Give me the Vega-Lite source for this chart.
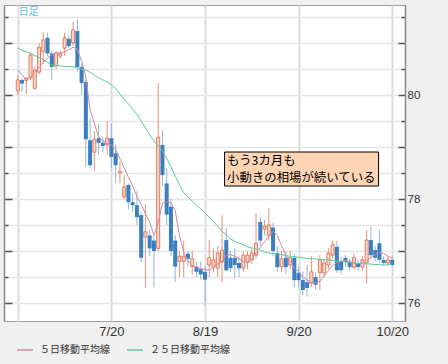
{
  "$schema": "https://vega.github.io/schema/vega-lite/v6.json",
  "width": 401,
  "height": 316,
  "autosize": {"type": "none"},
  "padding": {"left": 4, "top": 5, "right": 43, "bottom": 43},
  "background": "#f0f0f0",
  "config": {
    "view": {"fill": "white", "stroke": "#a0a0a0", "strokeWidth": 1},
    "font": "Liberation Sans"
  },
  "datasets": {
    "px": [
      {"i":0,"d":"6/20","o":80.08,"h":80.38,"l":80.00,"c":80.29,"m5":80.48,"m25":80.90},
      {"i":1,"d":"6/21","o":80.29,"h":80.33,"l":80.05,"c":80.22,"m5":80.38,"m25":80.86},
      {"i":2,"d":"6/22","o":80.28,"h":80.35,"l":80.02,"c":80.32,"m5":80.30,"m25":80.83},
      {"i":3,"d":"6/23","o":80.33,"h":80.82,"l":80.28,"c":80.77,"m5":80.35,"m25":80.80},
      {"i":4,"d":"6/24","o":80.13,"h":80.55,"l":80.10,"c":80.48,"m5":80.45,"m25":80.76},
      {"i":5,"d":"6/27","o":80.44,"h":81.00,"l":80.40,"c":80.92,"m5":80.53,"m25":80.72},
      {"i":6,"d":"6/28","o":80.83,"h":81.21,"l":80.60,"c":81.06,"m5":80.62,"m25":80.68},
      {"i":7,"d":"6/29","o":81.10,"h":81.20,"l":80.75,"c":80.80,"m5":80.71,"m25":80.63},
      {"i":8,"d":"6/30","o":80.80,"h":80.85,"l":80.29,"c":80.54,"m5":80.78,"m25":80.58},
      {"i":9,"d":"7/1","o":80.56,"h":80.85,"l":80.50,"c":80.80,"m5":80.81,"m25":80.57},
      {"i":10,"d":"7/4","o":80.75,"h":80.85,"l":80.70,"c":80.80,"m5":80.81,"m25":80.56},
      {"i":11,"d":"7/5","o":80.90,"h":81.20,"l":80.75,"c":81.10,"m5":80.83,"m25":80.55},
      {"i":12,"d":"7/6","o":81.08,"h":81.15,"l":80.90,"c":80.94,"m5":80.87,"m25":80.55},
      {"i":13,"d":"7/7","o":81.00,"h":81.40,"l":80.95,"c":81.25,"m5":80.92,"m25":80.54},
      {"i":14,"d":"7/8","o":81.23,"h":81.46,"l":80.45,"c":80.54,"m5":80.88,"m25":80.52},
      {"i":15,"d":"7/11","o":80.54,"h":80.60,"l":80.00,"c":80.23,"m5":80.65,"m25":80.50},
      {"i":16,"d":"7/12","o":80.25,"h":80.30,"l":78.62,"c":79.15,"m5":80.35,"m25":80.48},
      {"i":17,"d":"7/13","o":79.13,"h":79.55,"l":78.60,"c":78.65,"m5":79.71,"m25":80.44},
      {"i":18,"d":"7/14","o":78.90,"h":79.30,"l":78.55,"c":79.15,"m5":79.45,"m25":80.38},
      {"i":19,"d":"7/15","o":79.17,"h":79.45,"l":78.85,"c":79.08,"m5":79.20,"m25":80.33},
      {"i":20,"d":"7/18","o":79.08,"h":79.20,"l":78.90,"c":79.02,"m5":79.12,"m25":80.29},
      {"i":21,"d":"7/19","o":79.04,"h":79.50,"l":78.85,"c":79.17,"m5":79.07,"m25":80.25},
      {"i":22,"d":"7/20","o":79.17,"h":79.45,"l":78.60,"c":78.81,"m5":79.04,"m25":80.19},
      {"i":23,"d":"7/21","o":78.88,"h":79.05,"l":78.30,"c":78.65,"m5":78.95,"m25":80.12},
      {"i":24,"d":"7/22","o":78.50,"h":78.70,"l":78.30,"c":78.53,"m5":78.78,"m25":80.02},
      {"i":25,"d":"7/25","o":78.04,"h":78.46,"l":78.00,"c":78.23,"m5":78.60,"m25":79.92},
      {"i":26,"d":"7/26","o":78.27,"h":78.30,"l":77.80,"c":77.94,"m5":78.42,"m25":79.83},
      {"i":27,"d":"7/27","o":77.94,"h":78.10,"l":77.75,"c":77.88,"m5":78.25,"m25":79.73},
      {"i":28,"d":"7/28","o":77.88,"h":78.15,"l":77.50,"c":77.65,"m5":78.05,"m25":79.63},
      {"i":29,"d":"7/29","o":77.69,"h":77.75,"l":76.80,"c":76.87,"m5":77.90,"m25":79.50},
      {"i":30,"d":"8/1","o":77.27,"h":77.90,"l":76.30,"c":77.37,"m5":77.72,"m25":79.37},
      {"i":31,"d":"8/2","o":77.30,"h":77.40,"l":76.90,"c":77.05,"m5":77.56,"m25":79.23},
      {"i":32,"d":"8/3","o":77.20,"h":77.30,"l":76.30,"c":77.00,"m5":77.30,"m25":79.12},
      {"i":33,"d":"8/4","o":77.05,"h":80.23,"l":77.00,"c":79.19,"m5":77.55,"m25":79.02},
      {"i":34,"d":"8/5","o":79.04,"h":79.33,"l":78.25,"c":78.46,"m5":77.92,"m25":78.92},
      {"i":35,"d":"8/8","o":78.30,"h":78.60,"l":77.50,"c":77.70,"m5":77.95,"m25":78.79},
      {"i":36,"d":"8/9","o":77.85,"h":78.00,"l":76.90,"c":77.00,"m5":77.93,"m25":78.62},
      {"i":37,"d":"8/10","o":77.20,"h":77.30,"l":76.40,"c":76.70,"m5":77.78,"m25":78.44},
      {"i":38,"d":"8/11","o":76.80,"h":77.00,"l":76.50,"c":76.90,"m5":77.30,"m25":78.27},
      {"i":39,"d":"8/12","o":76.80,"h":77.20,"l":76.50,"c":76.90,"m5":76.98,"m25":78.12},
      {"i":40,"d":"8/15","o":76.95,"h":77.00,"l":76.70,"c":76.85,"m5":76.80,"m25":78.04},
      {"i":41,"d":"8/16","o":76.70,"h":77.00,"l":76.55,"c":76.85,"m5":76.72,"m25":77.96},
      {"i":42,"d":"8/17","o":76.70,"h":76.80,"l":76.50,"c":76.60,"m5":76.68,"m25":77.88},
      {"i":43,"d":"8/18","o":76.65,"h":76.80,"l":76.45,"c":76.55,"m5":76.66,"m25":77.81},
      {"i":44,"d":"8/19","o":76.60,"h":76.70,"l":75.95,"c":76.45,"m5":76.64,"m25":77.73},
      {"i":45,"d":"8/22","o":76.73,"h":77.21,"l":76.50,"c":76.87,"m5":76.63,"m25":77.65},
      {"i":46,"d":"8/23","o":76.69,"h":77.05,"l":76.60,"c":76.83,"m5":76.68,"m25":77.56},
      {"i":47,"d":"8/24","o":76.67,"h":77.10,"l":76.50,"c":76.96,"m5":76.75,"m25":77.48},
      {"i":48,"d":"8/25","o":76.79,"h":77.69,"l":76.40,"c":77.02,"m5":76.80,"m25":77.38},
      {"i":49,"d":"8/26","o":77.21,"h":77.44,"l":76.60,"c":76.63,"m5":76.92,"m25":77.31},
      {"i":50,"d":"8/29","o":76.87,"h":77.00,"l":76.60,"c":76.67,"m5":76.93,"m25":77.23},
      {"i":51,"d":"8/30","o":76.87,"h":77.05,"l":76.48,"c":76.73,"m5":76.90,"m25":77.19},
      {"i":52,"d":"8/31","o":76.77,"h":76.90,"l":76.50,"c":76.67,"m5":76.86,"m25":77.15},
      {"i":53,"d":"9/1","o":76.67,"h":77.00,"l":76.60,"c":76.92,"m5":76.80,"m25":77.12},
      {"i":54,"d":"9/2","o":76.79,"h":77.00,"l":76.65,"c":76.92,"m5":76.77,"m25":77.08},
      {"i":55,"d":"9/5","o":76.83,"h":77.05,"l":76.75,"c":76.96,"m5":76.83,"m25":77.06},
      {"i":56,"d":"9/6","o":76.92,"h":77.73,"l":76.85,"c":77.15,"m5":76.97,"m25":77.04},
      {"i":57,"d":"9/7","o":77.56,"h":77.65,"l":77.10,"c":77.20,"m5":77.07,"m25":77.02},
      {"i":58,"d":"9/8","o":77.42,"h":77.60,"l":77.30,"c":77.48,"m5":77.18,"m25":76.98},
      {"i":59,"d":"9/9","o":77.30,"h":77.83,"l":77.20,"c":77.50,"m5":77.28,"m25":76.96},
      {"i":60,"d":"9/12","o":77.45,"h":77.55,"l":76.90,"c":77.00,"m5":77.38,"m25":76.95},
      {"i":61,"d":"9/13","o":76.96,"h":77.10,"l":76.60,"c":76.69,"m5":77.30,"m25":76.94},
      {"i":62,"d":"9/14","o":76.70,"h":77.00,"l":76.60,"c":76.85,"m5":77.10,"m25":76.93},
      {"i":63,"d":"9/15","o":76.87,"h":77.00,"l":76.55,"c":76.69,"m5":76.92,"m25":76.91},
      {"i":64,"d":"9/16","o":76.73,"h":77.00,"l":76.65,"c":76.87,"m5":76.80,"m25":76.90},
      {"i":65,"d":"9/19","o":76.87,"h":76.95,"l":76.30,"c":76.44,"m5":76.68,"m25":76.89},
      {"i":66,"d":"9/20","o":76.58,"h":76.70,"l":76.30,"c":76.44,"m5":76.60,"m25":76.88},
      {"i":67,"d":"9/21","o":76.44,"h":76.60,"l":76.15,"c":76.25,"m5":76.50,"m25":76.87},
      {"i":68,"d":"9/22","o":76.40,"h":76.73,"l":76.12,"c":76.29,"m5":76.44,"m25":76.86},
      {"i":69,"d":"9/23","o":76.38,"h":76.90,"l":76.30,"c":76.60,"m5":76.40,"m25":76.85},
      {"i":70,"d":"9/26","o":76.50,"h":76.60,"l":76.25,"c":76.35,"m5":76.38,"m25":76.85},
      {"i":71,"d":"9/27","o":76.58,"h":76.92,"l":76.25,"c":76.83,"m5":76.42,"m25":76.84},
      {"i":72,"d":"9/28","o":76.58,"h":76.85,"l":76.50,"c":76.77,"m5":76.52,"m25":76.83},
      {"i":73,"d":"9/29","o":76.73,"h":77.05,"l":76.65,"c":76.96,"m5":76.62,"m25":76.83},
      {"i":74,"d":"9/30","o":76.92,"h":77.20,"l":76.85,"c":77.12,"m5":76.72,"m25":76.82},
      {"i":75,"d":"10/3","o":77.08,"h":77.20,"l":76.58,"c":76.63,"m5":76.78,"m25":76.81},
      {"i":76,"d":"10/4","o":76.79,"h":76.88,"l":76.55,"c":76.63,"m5":76.80,"m25":76.80},
      {"i":77,"d":"10/5","o":76.87,"h":76.92,"l":76.70,"c":76.79,"m5":76.82,"m25":76.79},
      {"i":78,"d":"10/6","o":76.79,"h":76.85,"l":76.62,"c":76.69,"m5":76.80,"m25":76.78},
      {"i":79,"d":"10/7","o":76.69,"h":76.95,"l":76.65,"c":76.87,"m5":76.77,"m25":76.77},
      {"i":80,"d":"10/10","o":76.77,"h":76.82,"l":76.62,"c":76.69,"m5":76.76,"m25":76.76},
      {"i":81,"d":"10/11","o":76.69,"h":76.90,"l":76.62,"c":76.83,"m5":76.77,"m25":76.76},
      {"i":82,"d":"10/12","o":76.77,"h":77.40,"l":76.38,"c":77.21,"m5":76.82,"m25":76.75},
      {"i":83,"d":"10/13","o":77.21,"h":77.46,"l":76.85,"c":76.92,"m5":76.88,"m25":76.75},
      {"i":84,"d":"10/14","o":77.02,"h":77.10,"l":76.80,"c":76.87,"m5":76.93,"m25":76.74},
      {"i":85,"d":"10/17","o":77.15,"h":77.40,"l":76.78,"c":76.83,"m5":76.98,"m25":76.74},
      {"i":86,"d":"10/18","o":76.83,"h":76.90,"l":76.72,"c":76.77,"m5":76.95,"m25":76.73},
      {"i":87,"d":"10/19","o":76.77,"h":76.88,"l":76.72,"c":76.83,"m5":76.90,"m25":76.74},
      {"i":88,"d":"10/20","o":76.83,"h":76.90,"l":76.70,"c":76.73,"m5":76.86,"m25":76.75}
    ],
    "note": [
      {"x0": 48.6, "x1": 84.8, "y0": 78.904, "y1": 78.25}
    ],
    "noteText": [
      {"x": 49.2, "y": 78.74, "t": "もう3カ月も"},
      {"x": 49.2, "y": 78.40, "t": "小動きの相場が続いている"}
    ],
    "tag": [
      {"x": 0.2, "y": 81.6, "t": "日足"}
    ]
  },
  "resolve": {"axis": {"y": "independent"}},
  "layer": [
    {
      "data": {"name": "px"},
      "transform": [{"filter": "datum.c >= datum.o"}],
      "mark": {"type": "rule", "color": "#e8907a", "strokeWidth": 1},
      "encoding": {
        "x": {"field": "i", "type": "quantitative",
          "scale": {"domain": [-2.0625, 89.833], "nice": false, "zero": false},
          "axis": {"values": [0, 22, 44, 66, 88],
            "labelExpr": "datum.value == 22 ? '7/20' : datum.value == 44 ? '8/19' : datum.value == 66 ? '9/20' : datum.value == 88 ? '10/20' : ''",
            "title": null, "ticks": false, "domain": false,
            "grid": true, "gridColor": "#dcdcdc", "gridWidth": 2,
            "labelFontSize": 13, "labelColor": "#333", "labelPadding": 4}},
        "y": {"field": "l", "type": "quantitative",
          "scale": {"domain": [75.654, 81.731], "nice": false, "zero": false},
          "axis": {"orient": "right", "title": null,
            "values": [76, 76.5, 77, 77.5, 78, 78.5, 79, 79.5, 80, 80.5, 81, 81.5],
            "labelExpr": "datum.value == 76 || datum.value == 78 || datum.value == 80 ? format(datum.value, 'd') : ''",
            "grid": true, "gridColor": "#e6e6e6", "gridWidth": 1.5,
            "tickColor": "#555", "tickWidth": 1.5,
            "tickSize": {"condition": {"test": "datum.value % 1 == 0", "value": -7}, "value": -4},
            "labelPadding": 9, "labelFontSize": 11.5, "labelColor": "#333",
            "domainColor": "#888", "domainWidth": 1.5}},
        "y2": {"field": "h"}
      }
    },
    {
      "data": {"name": "px"},
      "transform": [{"filter": "datum.c < datum.o"}],
      "mark": {"type": "rule", "color": "#8fb8dc", "strokeWidth": 1},
      "encoding": {
        "x": {"field": "i", "type": "quantitative"},
        "y": {"field": "l", "type": "quantitative",
          "axis": {"orient": "left", "title": null, "labels": false, "grid": false,
            "values": [76, 76.5, 77, 77.5, 78, 78.5, 79, 79.5, 80, 80.5, 81, 81.5],
            "tickColor": "#555", "tickWidth": 1.5,
            "tickSize": {"condition": {"test": "datum.value % 1 == 0", "value": -8}, "value": -4},
            "domainColor": "#888", "domainWidth": 1.5}},
        "y2": {"field": "h"}
      }
    },
    {
      "data": {"name": "px"},
      "transform": [{"filter": "datum.c >= datum.o"}],
      "mark": {"type": "bar", "fill": "#fcd8ca", "stroke": "#e07b62", "strokeWidth": 1, "size": 3},
      "encoding": {
        "x": {"field": "i", "type": "quantitative"},
        "y": {"field": "o", "type": "quantitative", "axis": null},
        "y2": {"field": "c"}
      }
    },
    {
      "data": {"name": "px"},
      "transform": [{"filter": "datum.c < datum.o"}],
      "mark": {"type": "bar", "fill": "#3b7fc0", "size": 4},
      "encoding": {
        "x": {"field": "i", "type": "quantitative"},
        "y": {"field": "o", "type": "quantitative", "axis": null},
        "y2": {"field": "c"}
      }
    },
    {
      "data": {"name": "px"},
      "mark": {"type": "line", "strokeWidth": 1},
      "encoding": {
        "x": {"field": "i", "type": "quantitative"},
        "y": {"field": "m5", "type": "quantitative", "axis": null},
        "color": {"datum": "５日移動平均線",
          "scale": {"domain": ["５日移動平均線", "２５日移動平均線"], "range": ["#d088aa", "#5ccb9c"]},
          "legend": {"orient": "none", "legendX": 12, "legendY": 336, "direction": "horizontal",
            "title": null, "symbolType": "stroke", "symbolSize": 256, "symbolStrokeWidth": 1.5,
            "labelFont": "Noto Sans CJK JP", "labelFontSize": 10, "labelColor": "#333",
            "labelOffset": 6, "columnPadding": 14, "padding": 0, "symbolOffset": 0}}
      }
    },
    {
      "data": {"name": "px"},
      "mark": {"type": "line", "strokeWidth": 1},
      "encoding": {
        "x": {"field": "i", "type": "quantitative"},
        "y": {"field": "m25", "type": "quantitative", "axis": null},
        "color": {"datum": "２５日移動平均線"}
      }
    },
    {
      "data": {"name": "note"},
      "mark": {"type": "rect", "fill": "#fdd5b4", "stroke": "#000", "strokeWidth": 1},
      "encoding": {
        "x": {"field": "x0", "type": "quantitative"},
        "x2": {"field": "x1"},
        "y": {"field": "y0", "type": "quantitative", "axis": null},
        "y2": {"field": "y1"}
      }
    },
    {
      "data": {"name": "noteText"},
      "mark": {"type": "text", "align": "left", "baseline": "middle", "font": "Noto Sans CJK JP", "fontSize": 12.4, "color": "#000"},
      "encoding": {
        "x": {"field": "x", "type": "quantitative"},
        "y": {"field": "y", "type": "quantitative", "axis": null},
        "text": {"field": "t"}
      }
    },
    {
      "data": {"name": "tag"},
      "mark": {"type": "text", "align": "left", "baseline": "middle", "font": "Noto Sans CJK JP", "fontSize": 10, "color": "#5cc0e0"},
      "encoding": {
        "x": {"field": "x", "type": "quantitative"},
        "y": {"field": "y", "type": "quantitative", "axis": null},
        "text": {"field": "t"}
      }
    }
  ]
}
